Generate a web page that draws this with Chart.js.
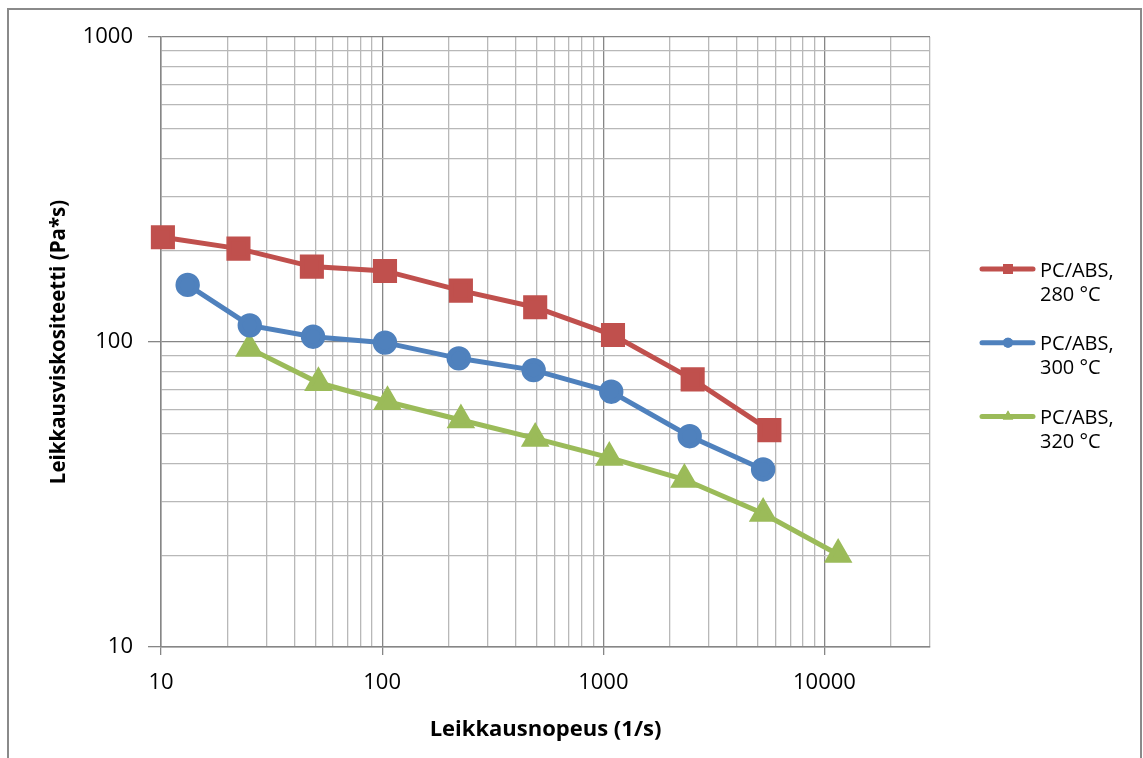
<!DOCTYPE html>
<html>
<head>
<meta charset="utf-8">
<script src="https://cdn.jsdelivr.net/npm/chart.js@4.4.1/dist/chart.umd.min.js"></script>
<style>
  html, body { margin: 0; padding: 0; background: #fff; }
  #wrap { width: 1143px; height: 758px; }
</style>
</head>
<body>
<div id="wrap"><canvas id="myChart" width="1143" height="758"></canvas></div>
<script>
const ctx = document.getElementById('myChart');

// arvot luettu kuvasta (leikkausnopeus 1/s, viskositeetti Pa*s)
const nopeus280 = [10.2, 22.4, 48.1, 103, 227, 492, 1106, 2535, 5636];
const visko280 = [220.6, 202.4, 176.7, 171, 147.4, 130, 105.4, 75.4, 51.4];

const nopeus300 = [13.2, 25.2, 48.7, 103, 222, 484, 1086, 2458, 5279];
const visko300 = [153.9, 113.4, 104.1, 99.5, 88.4, 80.9, 68.7, 49.1, 38.2];

const nopeus320 = [25.1, 51.5, 105.7, 227, 492, 1064, 2326, 5279, 11530];
const visko320 = [95.3, 73.5, 63.7, 55.5, 48.3, 41.8, 35.4, 27.4, 20.1];

const sarjat = ['PC/ABS, 280 °C', 'PC/ABS, 300 °C', 'PC/ABS, 320 °C'];
const legendaRivit = [['PC/ABS,', '280 °C'], ['PC/ABS,', '300 °C'], ['PC/ABS,', '320 °C']];

// akselien jaot
const xJaot = [10, 20, 30, 40, 50, 60, 70, 80, 90,
  100, 200, 300, 400, 500, 600, 700, 800, 900,
  1000, 2000, 3000, 4000, 5000, 6000, 7000, 8000, 9000,
  10000, 20000, 30000];
const xNimiot = [10, 100, 1000, 10000];
const yJaot = [10, 20, 30, 40, 50, 60, 70, 80, 90,
  100, 200, 300, 400, 500, 600, 700, 800, 900, 1000];
const yNimiot = [10, 100, 1000];

const punainen = '#C0504D';
const sininen = '#4F81BD';
const vihrea = '#9BBB59';
const fontti = "'Open Sans', 'Noto Sans', sans-serif";

function pisteet(xs, ys) {
  return xs.map(function (x, i) { return { x: x, y: ys[i] }; });
}

function onPaajako(v) {
  const l = Math.log10(v);
  return Math.abs(l - Math.round(l)) < 1e-9;
}

const kehys = {
  id: 'kehys',
  beforeDraw(chart) {
    const c = chart.ctx;
    c.save();
    c.fillStyle = '#fff';
    c.fillRect(0, 0, chart.width, chart.height);
    c.strokeStyle = '#8a8a8a';
    c.lineWidth = 2;
    c.strokeRect(8, 9, 1133, 760);
    c.restore();
  }
};

// oma legenda, koska tekstit ovat kahdella rivillä
const legenda = {
  id: 'legenda',
  afterDraw(chart) {
    const c = chart.ctx;
    const merkit = [
      { style: 'rect', r: 7 },
      { style: 'circle', r: 5 },
      { style: 'triangle', r: 6 }
    ];
    c.save();
    chart.data.datasets.forEach(function (ds, i) {
      const y = 269 + i * 73.7;
      c.strokeStyle = ds.borderColor;
      c.lineWidth = 5;
      c.lineCap = 'round';
      c.beginPath();
      c.moveTo(982, y);
      c.lineTo(1033, y);
      c.stroke();
      c.fillStyle = ds.borderColor;
      Chart.helpers.drawPoint(c, { pointStyle: merkit[i].style, radius: merkit[i].r, borderWidth: 0 }, 1008, y);
      c.fill();
      c.fillStyle = '#000';
      c.font = '20px ' + fontti;
      c.textBaseline = 'middle';
      c.textAlign = 'left';
      c.fillText(legendaRivit[i][0], 1040, y + 2);
      c.fillText(legendaRivit[i][1], 1040, y + 26);
    });
    c.restore();
  }
};

new Chart(ctx, {
  type: 'line',
  data: {
    datasets: [
      {
        label: sarjat[0],
        data: pisteet(nopeus280, visko280),
        borderColor: punainen,
        backgroundColor: punainen,
        borderWidth: 5,
        pointStyle: 'rect',
        pointRadius: 13.5,
        pointHoverRadius: 13.5,
        clip: false
      },
      {
        label: sarjat[1],
        data: pisteet(nopeus300, visko300),
        borderColor: sininen,
        backgroundColor: sininen,
        borderWidth: 5,
        pointStyle: 'circle',
        pointRadius: 9.7,
        pointHoverRadius: 9.7,
        clip: false
      },
      {
        label: sarjat[2],
        data: pisteet(nopeus320, visko320),
        borderColor: vihrea,
        backgroundColor: vihrea,
        borderWidth: 5,
        pointStyle: 'triangle',
        pointRadius: 11.5,
        pointHoverRadius: 11.5,
        clip: false
      }
    ]
  },
  options: {
    responsive: false,
    animation: false,
    layout: { padding: { top: 37, right: 213, bottom: 0, left: 0 } },
    plugins: {
      legend: { display: false },
      tooltip: { enabled: false }
    },
    scales: {
      x: {
        type: 'logarithmic',
        min: 10,
        max: 30000,
        afterBuildTicks: function (s) {
          s.ticks = xJaot.map(function (v) { return { value: v }; });
        },
        afterFit: function (s) { s.height = 111; },
        ticks: {
          autoSkip: false,
          maxRotation: 0,
          padding: 15,
          color: '#000',
          font: { family: fontti, size: 22 },
          callback: function (v) { return xNimiot.includes(v) ? String(v) : ''; }
        },
        grid: {
          color: function (c) { return onPaajako(c.tick.value) ? '#868686' : '#b8b8b8'; },
          tickColor: function (c) { return onPaajako(c.tick.value) ? '#868686' : 'rgba(0,0,0,0)'; },
          tickLength: 8,
          lineWidth: 1.3
        },
        border: { color: '#868686', width: 1.5 },
        title: {
          display: true,
          text: 'Leikkausnopeus (1/s)',
          color: '#000',
          font: { family: fontti, size: 22, weight: 'bold' },
          padding: { top: 0, bottom: 15 }
        }
      },
      y: {
        type: 'logarithmic',
        min: 10,
        max: 1000,
        afterBuildTicks: function (s) {
          s.ticks = yJaot.map(function (v) { return { value: v }; });
        },
        afterFit: function (s) { s.width = 161; },
        ticks: {
          autoSkip: false,
          padding: 15,
          color: '#000',
          font: { family: fontti, size: 22 },
          callback: function (v) { return yNimiot.includes(v) ? String(v) : ''; }
        },
        grid: {
          color: function (c) { return onPaajako(c.tick.value) ? '#868686' : '#b8b8b8'; },
          tickColor: function (c) { return onPaajako(c.tick.value) ? '#868686' : 'rgba(0,0,0,0)'; },
          tickLength: 13,
          lineWidth: 1.3
        },
        border: { color: '#868686', width: 1.5 },
        title: {
          display: true,
          text: 'Leikkausviskositeetti (Pa*s)',
          color: '#000',
          font: { family: fontti, size: 20.5, weight: 'bold' },
          padding: { top: 47, bottom: 0 }
        }
      }
    }
  },
  plugins: [kehys, legenda]
});
</script>
</body>
</html>
